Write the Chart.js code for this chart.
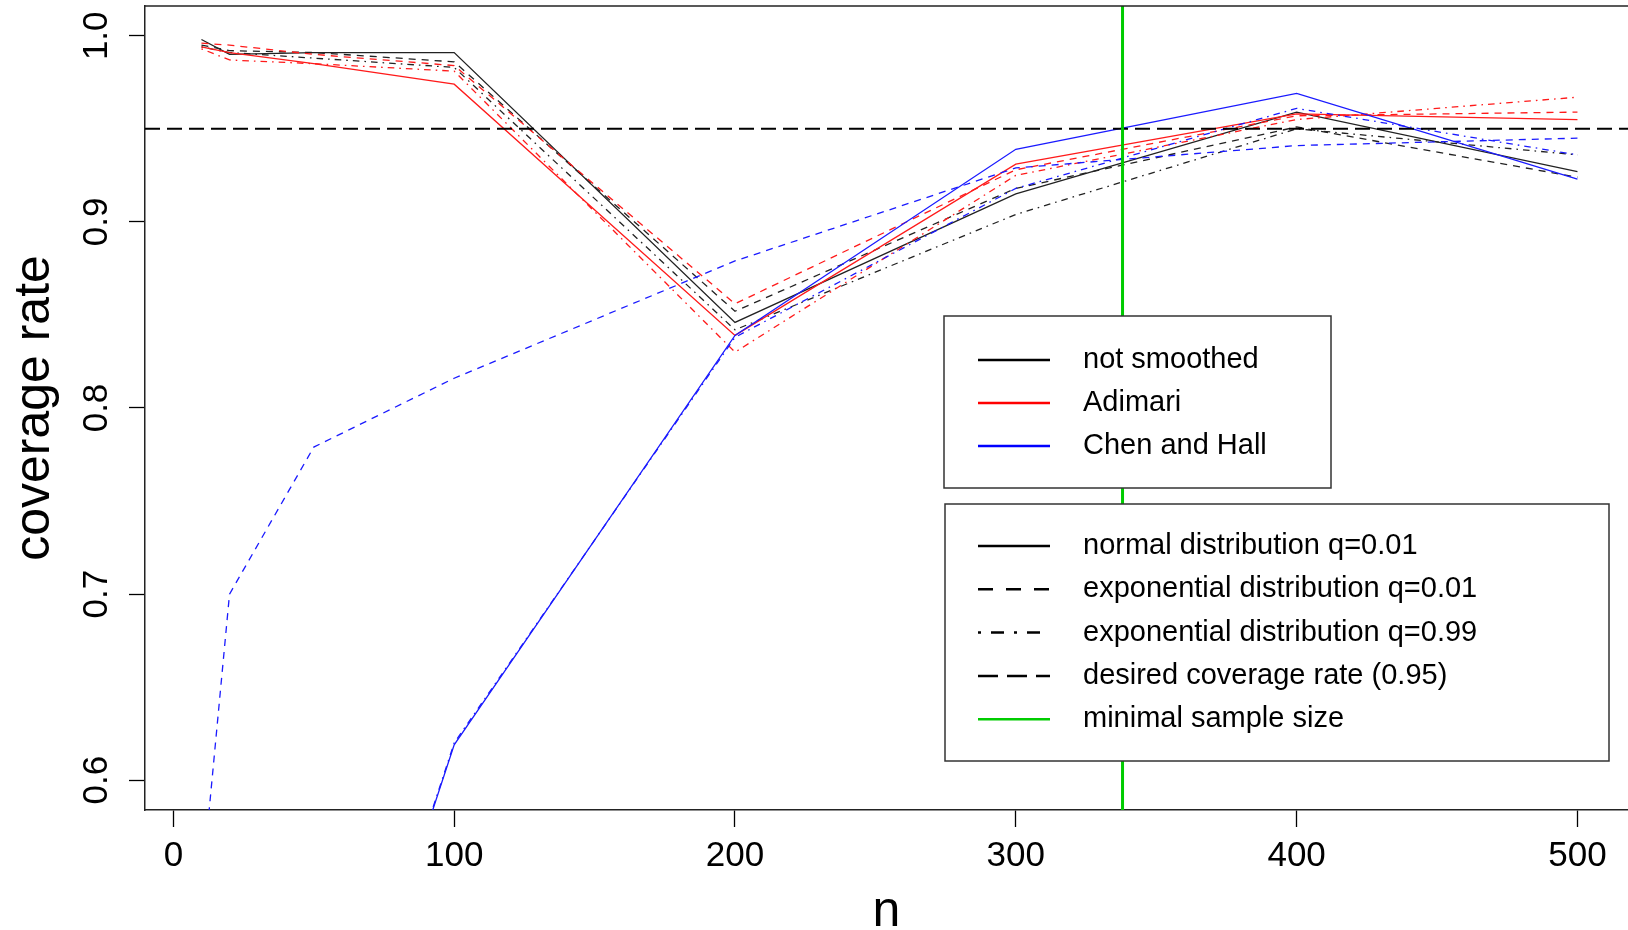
<!DOCTYPE html>
<html>
<head>
<meta charset="utf-8">
<script src="https://cdn.jsdelivr.net/npm/chart.js@4.4.1/dist/chart.umd.min.js"></script>
<style>
  html, body { margin: 0; padding: 0; background: #fff; }
  #wrap { width: 1628px; height: 930px; }
</style>
</head>
<body>
<div id="wrap"><canvas id="chart" width="1628" height="930"></canvas></div>
<script>
const sampleSizes = [10, 20, 50, 100, 200, 300, 400, 500];

// not smoothed (black)
const plainNormal = [0.998, 0.990, 0.991, 0.991, 0.846, 0.915, 0.959, 0.927];
const plainExp01 = [0.995, 0.992, 0.991, 0.986, 0.852, 0.918, 0.951, 0.924];
const plainExp99 = [0.994, 0.991, 0.988, 0.983, 0.842, 0.904, 0.950, 0.936];
// Adimari (red)
const adimariNormal = [0.994, 0.991, 0.985, 0.974, 0.839, 0.931, 0.958, 0.955];
const adimariExp01 = [0.996, 0.995, 0.990, 0.984, 0.856, 0.928, 0.957, 0.959];
const adimariExp99 = [0.993, 0.987, 0.985, 0.981, 0.830, 0.925, 0.955, 0.967];
// Chen and Hall (blue)
const chenNormal = [0.10, 0.20, 0.39, 0.619, 0.839, 0.939, 0.969, 0.923];
const chenExp01 = [0.54, 0.70, 0.779, 0.816, 0.879, 0.929, 0.941, 0.945];
const chenExp99 = [0.10, 0.20, 0.39, 0.620, 0.838, 0.918, 0.961, 0.936];

const desiredRate = 0.95;
const minimalSampleSize = 338;

const xTicks = [0, 100, 200, 300, 400, 500];
const yTicks = [0.6, 0.7, 0.8, 0.9, 1.0];
const xRange = [-10.1, 518];
const yRange = [0.584, 1.016];

const methodLabels = ['not smoothed', 'Adimari', 'Chen and Hall'];
const styleLabels = ['normal distribution q=0.01', 'exponential distribution q=0.01',
  'exponential distribution q=0.99', 'desired coverage rate (0.95)', 'minimal sample size'];

const FONT = '"Liberation Sans", Arial, sans-serif';
const DASHED = [7, 6];
const DOTDASH = [1.6, 5, 6.6, 5];

function series(values, color, dash, order) {
  return {
    data: sampleSizes.map((n, i) => ({ x: n, y: values[i] })),
    borderColor: color,
    borderWidth: 1.3,
    borderDash: dash,
    pointRadius: 0,
    tension: 0,
    fill: false,
    clip: 0,
    order,
  };
}

const datasets = [
  series(plainNormal, '#222', [], 4),
  series(plainExp01, '#222', DASHED, 4),
  series(plainExp99, '#222', DOTDASH, 4),
  series(adimariNormal, '#ff1a1a', [], 3),
  series(adimariExp01, '#ff1a1a', DASHED, 3),
  series(adimariExp99, '#ff1a1a', DOTDASH, 3),
  series(chenNormal, '#1a1aff', [], 2),
  series(chenExp01, '#1a1aff', DASHED, 2),
  series(chenExp99, '#1a1aff', DOTDASH, 2),
  {
    data: [{ x: xRange[0], y: desiredRate }, { x: xRange[1], y: desiredRate }],
    borderColor: '#000', borderWidth: 2, borderDash: [15, 7],
    pointRadius: 0, clip: 0, order: 1,
  },
  {
    data: [{ x: minimalSampleSize, y: yRange[0] }, { x: minimalSampleSize, y: yRange[1] }],
    borderColor: '#00cc00', borderWidth: 3,
    pointRadius: 0, clip: 0, order: 0,
  },
];

const legendOne = {
  x: 944, y: 316, w: 387, h: 172, first: 360, gap: 43,
  rows: methodLabels.map((t, i) => ({ text: t, color: ['#000', '#ff0000', '#0000ff'][i], dash: [] })),
};
const legendTwo = {
  x: 945, y: 504, w: 664, h: 257, first: 546, gap: 43.3,
  rows: styleLabels.map((t, i) => ({
    text: t,
    color: i === 4 ? '#00cc00' : '#000',
    dash: [[], [15, 13], [3, 10, 13, 10], [20, 9], []][i],
  })),
};

function drawLegend(ctx, lg) {
  ctx.save();
  ctx.fillStyle = '#fff';
  ctx.fillRect(lg.x, lg.y, lg.w, lg.h);
  ctx.strokeStyle = '#333';
  ctx.lineWidth = 1.5;
  ctx.strokeRect(lg.x, lg.y, lg.w, lg.h);
  ctx.font = '29px ' + FONT;
  ctx.textBaseline = 'middle';
  lg.rows.forEach((r, i) => {
    const y = lg.first + i * lg.gap;
    ctx.setLineDash(r.dash);
    ctx.strokeStyle = r.color;
    ctx.lineWidth = 2.5;
    ctx.beginPath();
    ctx.moveTo(978, y);
    ctx.lineTo(1050, y);
    ctx.stroke();
    ctx.setLineDash([]);
    ctx.fillStyle = '#000';
    ctx.fillText(r.text, 1083, y);
  });
  ctx.restore();
}

const rFrame = {
  id: 'rFrame',
  afterDraw(chart) {
    const { ctx, chartArea } = chart;
    const ys = chart.scales.y;
    ctx.save();
    // top edge of the plot box
    ctx.strokeStyle = '#222';
    ctx.lineWidth = 1.5;
    ctx.beginPath();
    ctx.moveTo(chartArea.left, chartArea.top);
    ctx.lineTo(chart.width, chartArea.top);
    ctx.stroke();
    // y tick labels, rotated like R
    ctx.fillStyle = '#000';
    ctx.font = '35px ' + FONT;
    ctx.textAlign = 'center';
    ctx.textBaseline = 'middle';
    ys.ticks.forEach(t => {
      ctx.save();
      ctx.translate(97, ys.getPixelForValue(t.value));
      ctx.rotate(-Math.PI / 2);
      ctx.fillText(t.value.toFixed(1), 0, 0);
      ctx.restore();
    });
    ctx.restore();
    drawLegend(ctx, legendOne);
    drawLegend(ctx, legendTwo);
  },
};

Chart.defaults.font.family = FONT;
Chart.defaults.color = '#000';

new Chart(document.getElementById('chart'), {
  type: 'line',
  data: { datasets },
  options: {
    responsive: false,
    animation: false,
    devicePixelRatio: 1,
    layout: { padding: { top: 6, right: 0, bottom: 0, left: 0 } },
    plugins: { legend: { display: false }, tooltip: { enabled: false } },
    scales: {
      x: {
        type: 'linear',
        min: xRange[0],
        max: xRange[1],
        afterBuildTicks: s => { s.ticks = xTicks.map(v => ({ value: v })); },
        afterFit: s => { s.height = 120; },
        grid: { drawOnChartArea: false, tickLength: 17, tickWidth: 1.3, tickColor: '#000' },
        border: { color: '#222', width: 1.5 },
        ticks: { font: { size: 35 }, color: '#000', padding: 8, maxRotation: 0, autoSkip: false,
          callback: v => String(v) },
        title: { display: true, text: 'n', font: { size: 50, lineHeight: 0.7 }, padding: 0, color: '#000' },
      },
      y: {
        type: 'linear',
        min: yRange[0],
        max: yRange[1],
        afterBuildTicks: s => { s.ticks = yTicks.map(v => ({ value: v })); },
        afterFit: s => { s.width = 145; },
        grid: { drawOnChartArea: false, tickLength: 16, tickWidth: 1.3, tickColor: '#000' },
        border: { color: '#222', width: 1.5 },
        ticks: { display: false },
        title: { display: true, text: 'coverage rate', font: { size: 50, lineHeight: 1.2 },
          padding: { top: 5, bottom: 0 }, color: '#000' },
      },
    },
  },
  plugins: [rFrame],
});
</script>
</body>
</html>
